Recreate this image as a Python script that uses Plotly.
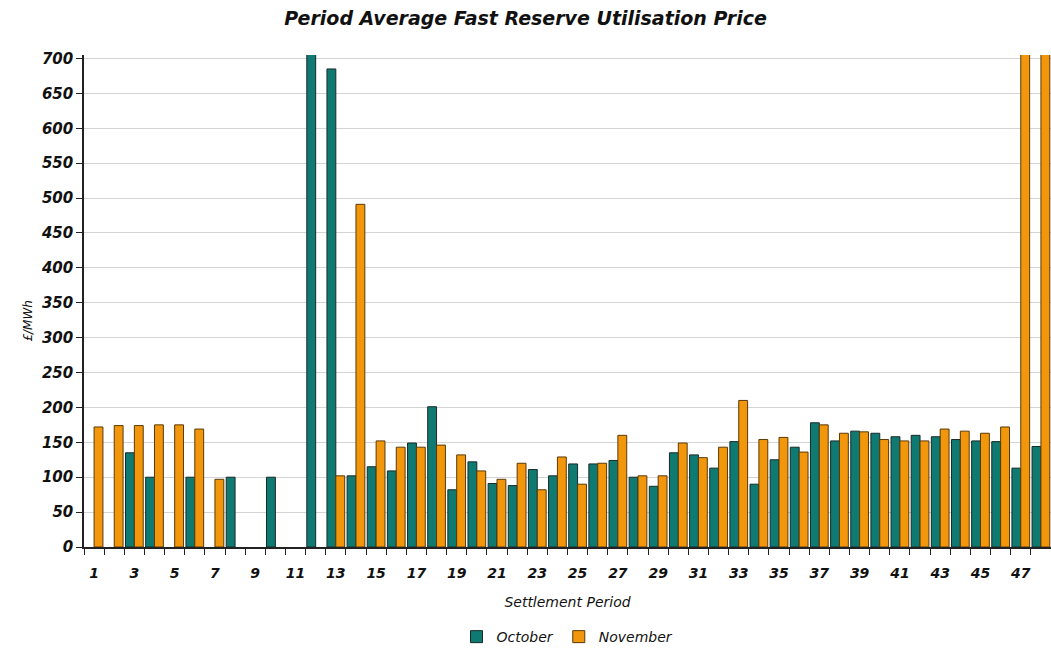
import plotly.graph_objects as go

periods = list(range(1, 49))
october = [None, None, 135, 100, None, 100, None, 100, None, 100, None, 720,
           685, 102, 115, 109, 149, 201, 82, 122, 91, 88, 111, 102,
           119, 119, 124, 100, 87, 135, 132, 113, 151, 90, 125, 143,
           178, 152, 166, 163, 158, 160, 158, 154, 152, 151, 113, 144]
november = [172, 174, 174, 175, 175, 169, 97, None, None, None, None, None,
            102, 491, 152, 143, 143, 146, 132, 109, 97, 120, 82, 129,
            90, 120, 160, 102, 102, 149, 128, 143, 210, 154, 157, 136,
            175, 163, 165, 154, 152, 152, 169, 166, 163, 172, 760, 760]
x_tick_labels = [str(p) for p in range(1, 48, 2)]
y_ticks = list(range(0, 701, 50))

FONT = "DejaVu Sans"

fig = go.Figure()
fig.add_trace(go.Bar(x=periods, y=october, name="October",
                     marker=dict(color="#0f7a72", line=dict(color="#1a2a28", width=1))))
fig.add_trace(go.Bar(x=periods, y=november, name="November",
                     marker=dict(color="#f2960c", line=dict(color="#5a3a08", width=1))))

fig.update_layout(
    width=1051, height=651,
    margin=dict(l=84, r=0, t=55, b=104, autoexpand=False),
    paper_bgcolor="white", plot_bgcolor="white",
    barmode="group", bargap=0.12, bargroupgap=0,
    title=dict(text="Period Average Fast Reserve Utilisation Price",
               x=0.5, xanchor="center", y=0.972, yanchor="middle",
               font=dict(family=FONT, size=19, color="#111", weight="bold", style="italic")),
    legend=dict(orientation="h", x=0.5, xanchor="center", y=-0.183, yanchor="middle",
                font=dict(family=FONT, size=14, color="#111", style="italic"),
                itemwidth=30, traceorder="normal"),
    font=dict(family=FONT, color="#111"),
)

fig.update_xaxes(
    range=[0.5, 48.5], tickmode="array", automargin=False,
    tickvals=list(range(1, 48, 2)), ticktext=x_tick_labels,
    ticks="", ticklabelstandoff=12,
    tickfont=dict(family=FONT, size=14, color="#111", weight="bold", style="italic"),
    showline=True, linecolor="#222", linewidth=1.5, showgrid=False, zeroline=False,
    minor=dict(ticks="outside", tick0=0.5, dtick=1, ticklen=6, tickcolor="#222", showgrid=False),
    title=dict(text="Settlement Period", standoff=18,
               font=dict(family=FONT, size=14, color="#111", style="italic")),
)
fig.update_yaxes(
    range=[0, 705], tickmode="array", tickvals=y_ticks, automargin=False,
    ticks="outside", ticklen=6, tickcolor="#222",
    tickfont=dict(family=FONT, size=15, color="#111", weight="bold", style="italic"),
    showline=True, linecolor="#222", linewidth=1.5,
    showgrid=True, gridcolor="#d4d4d4", gridwidth=1, zeroline=False,
)
fig.add_annotation(text="£/MWh", xref="paper", yref="paper", x=-0.058, y=0.46,
                   textangle=-90, showarrow=False, xanchor="center", yanchor="middle",
                   font=dict(family=FONT, size=12, color="#111", style="italic"))

fig.write_html("out.html", config={"displayModeBar": False},
               post_script="document.body.style.margin='0';document.body.style.overflow='hidden';")
